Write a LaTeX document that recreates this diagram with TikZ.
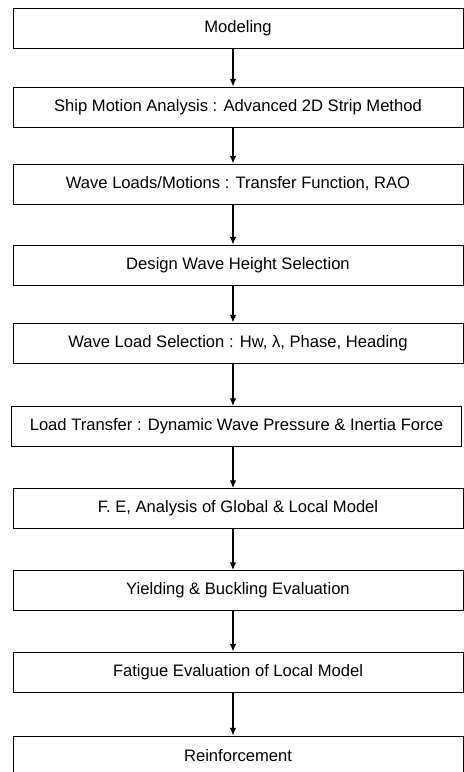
\documentclass[tikz,border=0pt]{standalone}
\usepackage{fontspec}
\setmainfont{Liberation Sans}
\usepackage{tikz}
\usetikzlibrary{arrows.meta}
\tikzset{>={Latex[length=1.9mm,width=1.6mm]}}
\tikzset{stepbox/.style={draw,line width=0.6pt,minimum width=11.25cm,minimum height=1cm,inner sep=0pt,font=\fontsize{11.8}{13}\selectfont}}

\begin{document}
\begin{tikzpicture}[x=0.025cm,y=-0.025cm]

% Frame
\useasboundingbox (0,0) rectangle (464,772);

% Boxes
\node[stepbox] (model)  at (238,28)    {Modeling};
\node[stepbox] (motion) at (238,107)   {Ship Motion Analysis : Advanced 2D Strip Method};
\node[stepbox] (rao)    at (238,184)   {Wave Loads/Motions : Transfer Function, RAO};
\node[stepbox] (height) at (238,265)   {Design Wave Height Selection};
\node[stepbox] (select) at (238,343)   {Wave Load Selection : Hw, λ, Phase, Heading};
\node[stepbox] (trans)  at (236.5,426.5) {Load Transfer : Dynamic Wave Pressure \& Inertia Force};
\node[stepbox] (fe)     at (238,508.5) {F. E, Analysis of Global \& Local Model};
\node[stepbox] (yield)  at (238,590.5) {Yielding \& Buckling Evaluation};
\node[stepbox] (fatig)  at (238,672)   {Fatigue Evaluation of Local Model};
\node[stepbox] (reinf)  at (238,756)   {Reinforcement};

% Arrows
\foreach \a/\b in {model/motion,motion/rao,rao/height,height/select,select/trans,trans/fe,fe/yield,yield/fatig,fatig/reinf}
  \draw[->,line width=0.9pt] ([xshift=-1.25mm]model.center |- \a.south) -- ([xshift=-1.25mm]model.center |- \b.north);

\end{tikzpicture}
\end{document}
